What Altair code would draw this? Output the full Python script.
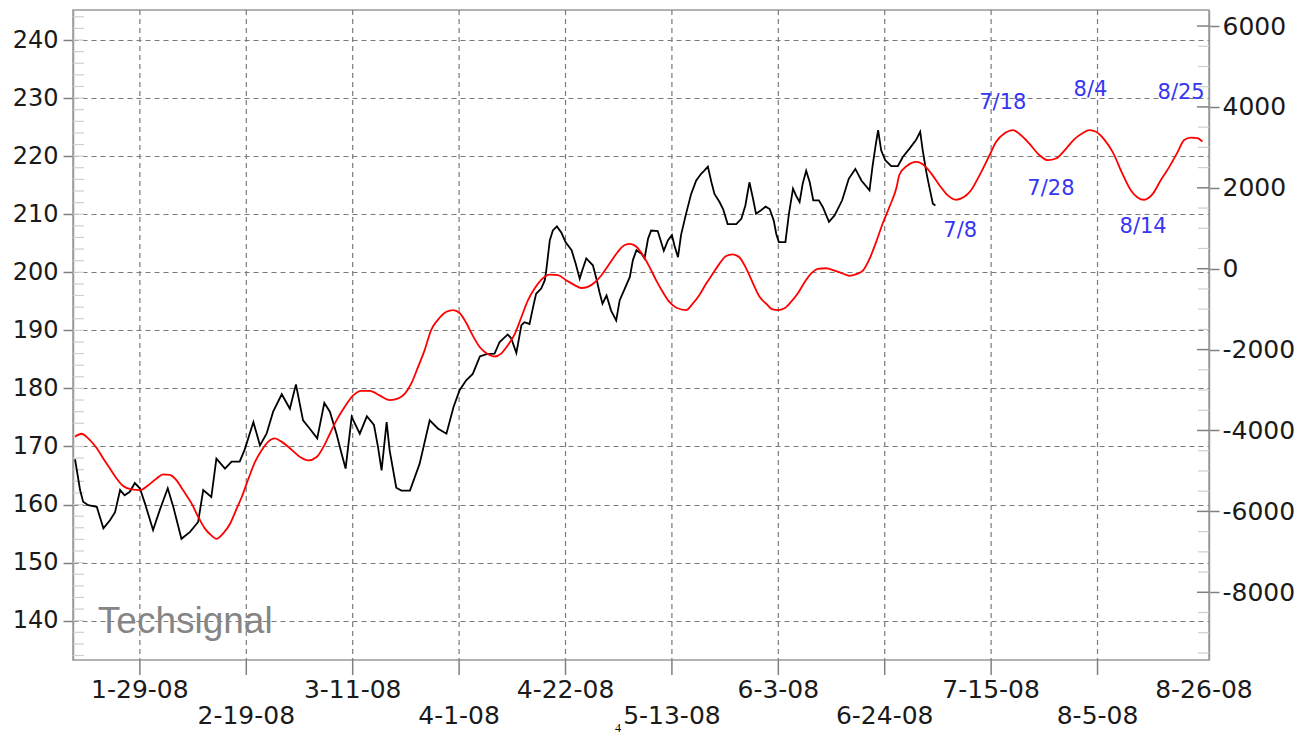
import altair as alt
import pandas as pd

# ---------------- data ----------------
BASE_DATE = "2008-01-29"  # day offsets below are counted from this date

# black price line (left axis)
price_days = [-12.8, -11.8, -11.2, -10.2, -8.5, -7.2, -5.9, -4.9, -3.9, -3.0,
              -2.0, -1.0, 0.0, 1.0, 2.6, 3.9, 5.5, 6.6, 8.2, 9.9,
              11.5, 12.5, 14.1, 15.1, 16.8, 18.1, 19.7, 20.7, 22.4, 23.7,
              25.0, 26.3, 28.0, 29.6, 30.8, 32.2, 33.5, 35.0, 36.4, 37.5,
              38.8, 39.8, 40.6, 41.8, 43.4, 44.8, 46.2, 47.0, 47.7, 48.7,
              49.3, 50.6, 51.6, 53.3, 55.2, 57.2, 58.8, 60.5, 61.9, 63.1,
              64.4, 65.7, 67.1, 68.4, 70.0, 71.0, 72.6, 73.3, 74.3, 75.3,
              75.9, 76.9, 77.6, 78.2, 79.2, 79.9, 80.2, 80.9, 81.5, 82.3,
              83.2, 84.0, 85.2, 86.0, 86.8, 87.3, 88.1, 89.4, 90.1, 90.7,
              91.3, 92.1, 93.0, 94.0, 94.7, 95.7, 96.7, 97.3, 98.0, 99.0,
              99.6, 100.3, 100.9, 102.2, 103.4, 104.2, 105.0, 105.5, 106.2, 106.8,
              107.8, 108.8, 109.8, 110.8, 111.4, 112.1, 112.8, 113.4, 114.4, 115.1,
              116.0, 117.7, 118.7, 119.5, 120.3, 121.0, 121.6, 122.6, 123.5, 124.3,
              125.1, 125.6, 126.1, 127.4, 128.1, 128.9, 129.5, 130.2, 130.8, 131.5,
              132.2, 132.9, 134.0, 134.8, 136.0, 137.1, 138.6, 139.9, 141.2, 142.4,
              144.0, 144.6, 145.2, 145.7, 146.3, 147.1, 148.3, 149.6, 150.6, 151.9,
              153.2, 154.0, 154.5, 155.2, 155.8, 156.5, 157.0]
price_vals = [167.8, 162.5, 160.5, 159.9, 159.6, 155.9, 157.3, 158.7, 162.5, 161.6,
              162.2, 163.7, 162.8, 160.2, 155.6, 159.0, 162.8, 159.6, 154.1, 155.3,
              157.0, 162.5, 161.3, 167.9, 166.2, 167.4, 167.4, 169.5, 174.2, 170.2,
              172.2, 176.0, 179.0, 176.5, 180.7, 174.5, 173.1, 171.4, 177.5, 176.0,
              172.2, 168.8, 166.2, 175.1, 172.2, 175.2, 173.7, 169.9, 165.9, 174.2,
              169.3, 162.9, 162.4, 162.4, 167.0, 174.5, 173.1, 172.2, 176.8, 179.7,
              181.4, 182.5, 185.5, 185.9, 186.0, 188.0, 189.3, 188.6, 186.1, 190.9,
              191.4, 191.1, 194.0, 196.3, 197.2, 198.6, 200.3, 205.5, 207.2, 207.9,
              206.8, 205.2, 203.8, 201.5, 198.9, 200.3, 202.4, 201.2, 198.9, 196.6,
              194.6, 196.0, 193.4, 191.7, 195.2, 197.2, 199.2, 202.1, 203.8, 203.2,
              202.4, 205.8, 207.2, 207.1, 203.7, 205.5, 206.4, 204.6, 202.6, 206.4,
              210.1, 213.5, 215.8, 217.0, 217.5, 218.2, 215.5, 213.5, 212.1, 210.9,
              208.3, 208.3, 209.2, 211.5, 215.5, 212.7, 210.1, 210.7, 211.3, 210.9,
              208.9, 206.6, 205.2, 205.2, 210.1, 214.4, 213.2, 212.1, 215.2, 217.5,
              215.5, 212.4, 212.4, 211.2, 208.7, 209.8, 212.4, 216.1, 217.8, 215.8,
              214.1, 218.3, 221.8, 224.5, 221.0, 219.3, 218.3, 218.3, 219.9, 221.3,
              222.8, 224.2, 221.0, 217.3, 214.7, 211.8, 211.5]

# red cycle line (right axis)
cycle_days = [-12.8, -11.5, -10.2, -8.5, -7.2, -5.9, -4.6, -3.3, -1.6, 0.0,
              1.6, 3.3, 4.6, 5.9, 7.2, 8.5, 10.2, 11.5, 12.8, 14.1,
              15.1, 16.4, 17.8, 19.1, 20.1, 21.4, 22.7, 24.0, 25.3, 26.6,
              28.0, 29.6, 31.6, 33.2, 34.9, 36.2, 37.5, 38.8, 40.4, 42.1,
              43.7, 45.4, 47.3, 49.3, 51.0, 52.3, 53.6, 54.9, 56.2, 57.5,
              58.8, 60.5, 61.8, 63.1, 64.4, 65.7, 67.1, 68.7, 70.0, 71.3,
              72.6, 74.0, 75.3, 76.6, 77.9, 79.2, 80.9, 82.5, 84.2, 85.8,
              87.1, 88.4, 89.7, 91.1, 92.7, 94.3, 95.7, 96.7, 98.0, 99.3,
              100.6, 101.9, 103.2, 104.5, 105.9, 107.8, 109.1, 110.5, 111.8, 113.1,
              114.4, 115.7, 117.0, 118.3, 119.7, 121.0, 122.3, 123.6, 124.9, 125.9,
              127.2, 128.5, 129.8, 131.2, 132.5, 133.8, 135.4, 137.1, 138.7, 140.0,
              141.4, 142.7, 144.0, 145.3, 146.6, 147.9, 149.3, 149.9, 151.5, 153.2,
              154.5, 156.2, 157.8, 159.4, 161.1, 162.7, 164.0, 165.7, 167.7, 169.0,
              170.6, 172.3, 173.9, 175.5, 177.5, 179.2, 180.8, 182.5, 184.4, 186.1,
              187.4, 188.7, 190.3, 192.0, 193.9, 195.6, 196.9, 198.2, 199.9, 201.5,
              203.2, 204.8, 206.1, 207.4, 208.7, 209.7]
cycle_vals = [-4152, -4080, -4195, -4439, -4697, -4941, -5185, -5372, -5458, -5473,
              -5358, -5185, -5085, -5099, -5228, -5473, -5803, -6133, -6420, -6592,
              -6678, -6549, -6305, -5932, -5645, -5200, -4783, -4496, -4281, -4195,
              -4281, -4439, -4654, -4740, -4654, -4410, -4080, -3750, -3420, -3132,
              -3018, -3018, -3132, -3247, -3204, -3089, -2831, -2429, -2013, -1510,
              -1266, -1065, -1022, -1094, -1338, -1654, -1941, -2113, -2171, -2099,
              -1898, -1611, -1194, -778, -491, -276, -146, -161, -290, -405,
              -477, -448, -347, -161, 126, 413, 586, 614, 543, 327,
              40, -290, -577, -821, -965, -1022, -864, -635, -362, -118,
              126, 313, 356, 284, -3, -362, -692, -864, -1008, -1022,
              -979, -821, -620, -333, -118, -3, 11, -46, -118, -175,
              -132, -46, 241, 658, 1117, 1519, 1993, 2323, 2553, 2639,
              2581, 2352, 2064, 1820, 1705, 1777, 1935, 2308, 2811, 3141,
              3342, 3428, 3299, 3098, 2811, 2682, 2725, 2926, 3199, 3356,
              3428, 3385, 3199, 2883, 2352, 1935, 1763, 1705, 1849, 2194,
              2524, 2883, 3184, 3242, 3227, 3141]

# turning-point annotations (placed in left-axis units)
ann_labels = ["7/8", "7/18", "7/28", "8/4", "8/14", "8/25"]
ann_days = [161.9, 170.3, 179.8, 187.6, 198.0, 205.5]
ann_vals = [207.1, 229.2, 214.3, 231.4, 207.8, 230.9]

# watermark
mark_label = ["Techsignal"]
mark_day = [-8.3]
mark_val = [137.9]

# axes
x_tick_dates = ["2008-01-29", "2008-02-19", "2008-03-11", "2008-04-01",
                "2008-04-22", "2008-05-13", "2008-06-03", "2008-06-24",
                "2008-07-15", "2008-08-05"]
x_row1_dates = ["2008-01-29", "2008-03-11", "2008-04-22", "2008-06-03",
                "2008-07-15", "2008-08-26"]
x_row2_dates = ["2008-02-19", "2008-04-01", "2008-05-13", "2008-06-24",
                "2008-08-05"]
left_ticks = [140, 150, 160, 170, 180, 190, 200, 210, 220, 230, 240]
right_ticks = [-8000, -6000, -4000, -2000, 0, 2000, 4000, 6000]
left_minor = list(range(134, 246, 2))
right_minor = [v for v in range(-9500, 6500, 500) if v % 2000 != 0]
left_domain = [133.23, 245.17]
right_domain = [-9674, 6396]
x_domain_days = [-13.2, 211.0]

# ---------------- build tables ----------------
base = pd.Timestamp(BASE_DATE)
price_df = pd.DataFrame({"date": base + pd.to_timedelta(price_days, unit="D"),
                         "price": price_vals})
cycle_df = pd.DataFrame({"date": base + pd.to_timedelta(cycle_days, unit="D"),
                         "cycle": cycle_vals})
ann_df = pd.DataFrame({"date": base + pd.to_timedelta(ann_days, unit="D"),
                       "price": ann_vals, "label": ann_labels})
wm_df = pd.DataFrame({"date": base + pd.to_timedelta(mark_day, unit="D"),
                      "price": mark_val, "label": mark_label})
ticks_df = pd.DataFrame({"date": pd.to_datetime(x_tick_dates)})
row1_df = pd.DataFrame({"date": pd.to_datetime(x_row1_dates)})
row2_df = pd.DataFrame({"date": pd.to_datetime(x_row2_dates)})
lminor_df = pd.DataFrame({"price": left_minor})
rminor_df = pd.DataFrame({"cycle": right_minor})
rmajor_df = pd.DataFrame({"cycle": right_ticks})


def to_dt(ts):
    return alt.DateTime(year=ts.year, month=ts.month, date=ts.day,
                        hours=ts.hour, minutes=ts.minute)


x0 = base + pd.to_timedelta(x_domain_days[0], unit="D")
x1 = base + pd.to_timedelta(x_domain_days[1], unit="D")
x_scale = alt.Scale(domain=[to_dt(x0), to_dt(x1)])

ls = alt.Scale(domain=left_domain, nice=False, zero=False)
rs = alt.Scale(domain=right_domain, nice=False, zero=False)

W, H = 1136, 650
GRID = "#7a7a7a"
TICK = "#808080"
FONT = "DejaVu Sans"
LABEL = "#1a1a1a"
XFS = 25

# vertical dashed grid at the 3-week date ticks
vgrid = alt.Chart(ticks_df).mark_rule(color=GRID, strokeWidth=1.2,
                                      strokeDash=[5, 4]).encode(
    x=alt.X("date:T", scale=x_scale, axis=None))

# date ticks below the plot
xticks = alt.Chart(ticks_df).mark_rule(color=TICK, strokeWidth=1.5).encode(
    x=alt.X("date:T", scale=x_scale, axis=None),
    y=alt.value(H), y2=alt.value(H + 15))

row1_labels = alt.Chart(row1_df).mark_text(font=FONT, fontSize=XFS, color=LABEL,
                                           baseline="top", align="center").encode(
    x=alt.X("date:T", scale=x_scale, axis=None),
    y=alt.value(H + 18),
    text=alt.Text("date:T", format="%-m-%-d-%y"))

row2_labels = alt.Chart(row2_df).mark_text(font=FONT, fontSize=XFS, color=LABEL,
                                           baseline="top", align="center").encode(
    x=alt.X("date:T", scale=x_scale, axis=None),
    y=alt.value(H + 44),
    text=alt.Text("date:T", format="%-m-%-d-%y"))

lminor = alt.Chart(lminor_df).mark_rule(color="#cfcfcf", strokeWidth=1.2).encode(
    y=alt.Y("price:Q", scale=ls, axis=None),
    x=alt.value(0), x2=alt.value(11))

wm = alt.Chart(wm_df).mark_text(font="Liberation Sans", fontSize=37, color="#858585",
                                baseline="alphabetic", align="left").encode(
    x=alt.X("date:T", scale=x_scale, axis=None),
    y=alt.Y("price:Q", scale=ls, axis=None),
    text="label:N")

black = alt.Chart(price_df).mark_line(color="#000000", strokeWidth=1.8).encode(
    x=alt.X("date:T", scale=x_scale, axis=None),
    y=alt.Y("price:Q", scale=ls,
            axis=alt.Axis(values=left_ticks, title=None, tickSize=10, labelPadding=5,
                          grid=True, orient="left", labelFontSize=24)))

ann = alt.Chart(ann_df).mark_text(font=FONT, fontSize=21, color="#3636f2",
                                  baseline="middle", align="center").encode(
    x=alt.X("date:T", scale=x_scale, axis=None),
    y=alt.Y("price:Q", scale=ls, axis=None),
    text="label:N")

stray = alt.Chart(pd.DataFrame({"t": ["4"]})).mark_text(
    font="Liberation Serif", fontSize=12, color="#000000", align="center",
    baseline="alphabetic").encode(x=alt.value(545), y=alt.value(722), text="t:N")

rminor = alt.Chart(rminor_df).mark_rule(color="#cfcfcf", strokeWidth=1.2).encode(
    y=alt.Y("cycle:Q", scale=rs, axis=None),
    x=alt.value(W - 11), x2=alt.value(W))

rmajor = alt.Chart(rmajor_df).mark_rule(color=TICK, strokeWidth=1.5).encode(
    y=alt.Y("cycle:Q", scale=rs, axis=None),
    x=alt.value(W - 12), x2=alt.value(W))

red = alt.Chart(cycle_df).mark_line(color="#ff0000", strokeWidth=1.8,
                                    interpolate="monotone").encode(
    x=alt.X("date:T", scale=x_scale, axis=None),
    y=alt.Y("cycle:Q", scale=rs,
            axis=alt.Axis(values=right_ticks, title=None, orient="right", tickSize=10,
                          labelPadding=3, grid=False, format="d",
                          labelFontSize=25)))

chart = alt.layer(
    vgrid, xticks, row1_labels, row2_labels, lminor, wm, black, ann, stray,
    rminor, rmajor, red,
).resolve_scale(y="independent").properties(
    width=W, height=H,
    padding={"left": 4, "top": 1, "right": 2, "bottom": 0},
    background="#ffffff",
).configure(
    locale=alt.Locale(number=alt.NumberLocale(decimal=".", thousands=",",
                                              grouping=[3], currency=["$", ""],
                                              minus="-")),
).configure_view(
    stroke="#9a9a9a", strokeWidth=1.5
).configure_axis(
    domainColor="#9a9a9a", domainWidth=1.5,
    tickColor=TICK, tickWidth=1.5,
    labelFont=FONT, labelFontSize=24, labelColor=LABEL,
    gridColor=GRID, gridDash=[5, 4], gridWidth=1.2,
)

chart.save("out.html", embed_options={"renderer": "svg", "actions": False})
